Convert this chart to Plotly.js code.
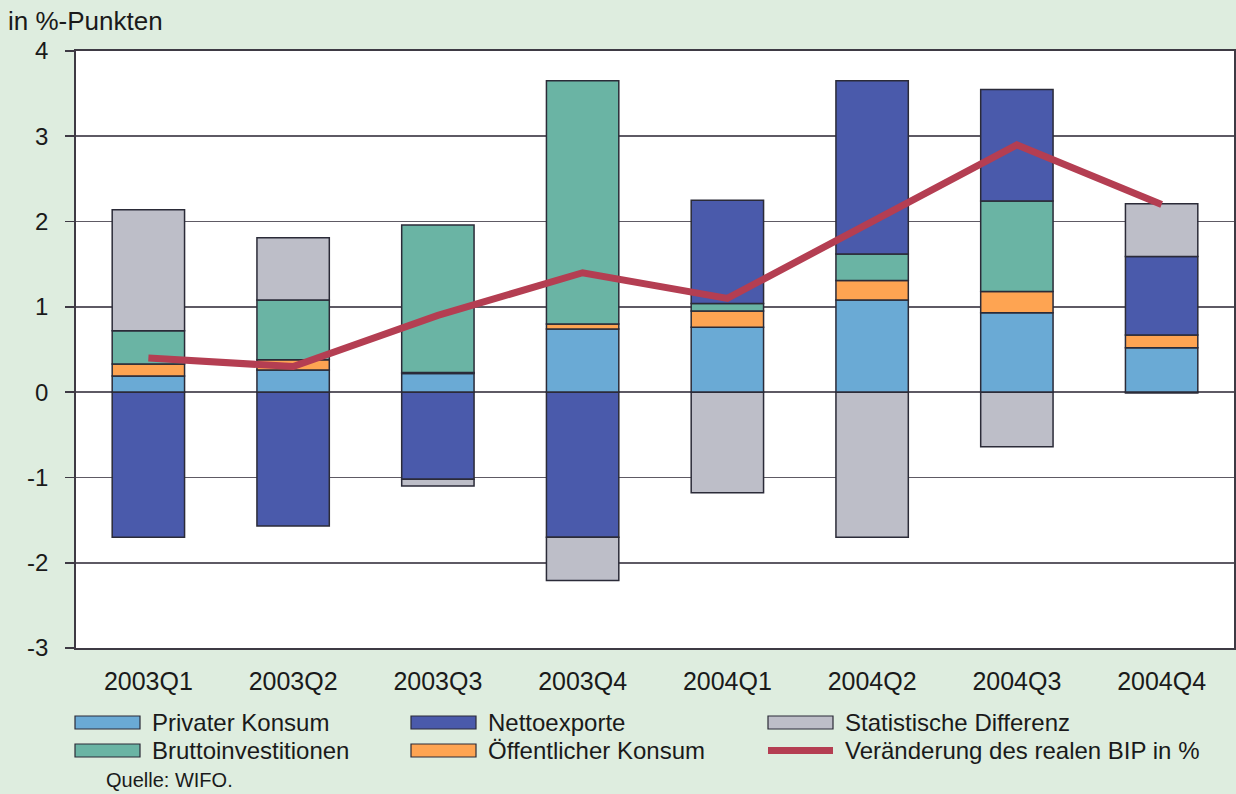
<!DOCTYPE html>
<html>
<head>
<meta charset="utf-8">
<script src="https://cdn.plot.ly/plotly-3.0.1.min.js"></script>
<style>
  html, body { margin: 0; padding: 0; background: #deeddf; }
  #chart { width: 1236px; height: 794px; }
</style>
</head>
<body>
<div id="chart"></div>
<script>
const quarters = ["2003Q1", "2003Q2", "2003Q3", "2003Q4", "2004Q1", "2004Q2", "2004Q3", "2004Q4"];
const privaterKonsum = [0.19, 0.26, 0.22, 0.74, 0.76, 1.08, 0.93, 0.52];
const oeffentlicherKonsum = [0.14, 0.12, 0.01, 0.06, 0.19, 0.23, 0.25, 0.15];
const bruttoinvestitionen = [0.39, 0.70, 1.73, 2.85, 0.09, 0.31, 1.06, -0.01];
const nettoexporte = [-1.70, -1.57, -1.02, -1.70, 1.21, 2.03, 1.31, 0.92];
const statDifferenz = [1.42, 0.73, -0.08, -0.51, -1.18, -1.70, -0.64, 0.62];
const bipVeraenderung = [0.4, 0.3, 0.9, 1.4, 1.1, 2.0, 2.9, 2.2];
const yTicks = [-3, -2, -1, 0, 1, 2, 3, 4];

const colors = {
  pk: "#6aaad5",
  nx: "#4a5aab",
  sd: "#bdbec8",
  bi: "#6ab4a4",
  ok: "#fea452",
  line: "#b43e52"
};

const FONT = "Liberation Sans, Arial, Helvetica, sans-serif";
const outline = { color: "#2b2b38", width: 1.5 };

function barTrace(name, values, color) {
  return {
    type: "bar", name: name, x: quarters, y: values,
    marker: { color: color, line: outline },
    width: 0.5, showlegend: false, hoverinfo: "name+y"
  };
}

const traces = [
  barTrace("Privater Konsum", privaterKonsum, colors.pk),
  barTrace("Öffentlicher Konsum", oeffentlicherKonsum, colors.ok),
  barTrace("Bruttoinvestitionen", bruttoinvestitionen, colors.bi),
  barTrace("Nettoexporte", nettoexporte, colors.nx),
  barTrace("Statistische Differenz", statDifferenz, colors.sd),
  {
    type: "scatter", mode: "lines", name: "Veränderung des realen BIP in %",
    x: quarters, y: bipVeraenderung,
    line: { color: colors.line, width: 7 }, showlegend: false
  }
];

// pixel -> paper helpers (plot area: x 76..1234, y 51..648)
const L = 76, R = 1234, T = 51, B = 648;
const px = p => (p - L) / (R - L);
const py = q => (B - q) / (B - T);

const legendItems = [
  { name: "Privater Konsum", color: colors.pk, col: 0, row: 0, kind: "box" },
  { name: "Nettoexporte", color: colors.nx, col: 1, row: 0, kind: "box" },
  { name: "Statistische Differenz", color: colors.sd, col: 2, row: 0, kind: "box" },
  { name: "Bruttoinvestitionen", color: colors.bi, col: 0, row: 1, kind: "box" },
  { name: "Öffentlicher Konsum", color: colors.ok, col: 1, row: 1, kind: "box" },
  { name: "Veränderung des realen BIP in %", color: colors.line, col: 2, row: 1, kind: "line" }
];
const colX = [75, 411, 768];
const rowY = [722.5, 750.5];
const swW = 65, swH = 13;

const shapes = [];
const annotations = [];
legendItems.forEach(it => {
  const x0 = colX[it.col], yc = rowY[it.row];
  if (it.kind === "box") {
    shapes.push({
      type: "rect", xref: "paper", yref: "paper",
      x0: px(x0), x1: px(x0 + swW), y0: py(yc + swH / 2), y1: py(yc - swH / 2),
      fillcolor: it.color, line: { color: "#2b2b38", width: 1.2 }
    });
  } else {
    shapes.push({
      type: "line", xref: "paper", yref: "paper",
      x0: px(x0), x1: px(x0 + swW), y0: py(yc), y1: py(yc),
      line: { color: it.color, width: 7 }
    });
  }
  annotations.push({
    xref: "paper", yref: "paper", x: px(x0 + swW + 10), y: py(yc),
    xanchor: "left", yanchor: "middle", showarrow: false,
    text: it.name, font: { family: FONT, size: 24, color: "#1a1a1a" }
  });
});
annotations.push({
  xref: "paper", yref: "paper", x: px(104), y: py(780),
  xanchor: "left", yanchor: "middle", showarrow: false,
  text: "Quelle: WIFO.", font: { family: FONT, size: 20, color: "#1a1a1a" }
});

const layout = {
  width: 1236, height: 794,
  margin: { l: L, r: 1236 - R, t: T, b: 794 - B, pad: 0 },
  paper_bgcolor: "#deeddf",
  plot_bgcolor: "#ffffff",
  barmode: "relative",
  title: {
    text: "in %-Punkten",
    xref: "container", yref: "container",
    x: 8 / 1236, xanchor: "left",
    y: 1 - 21 / 794, yanchor: "middle",
    font: { family: FONT, size: 26, color: "#1a1a1a" }
  },
  xaxis: {
    type: "category",
    range: [-0.5, 7.5],
    showgrid: false, zeroline: false,
    showline: true, linecolor: "#3e3a44", linewidth: 1.8, mirror: true,
    ticks: "", ticklabelstandoff: 10,
    tickfont: { family: FONT, size: 25, color: "#1a1a1a" },
    fixedrange: true
  },
  yaxis: {
    range: [-3, 4],
    tickvals: yTicks, ticktext: yTicks.map(String),
    showgrid: true, gridcolor: "#5e5a64", gridwidth: 1.8,
    zeroline: true, zerolinecolor: "#5e5a64", zerolinewidth: 1.8,
    showline: true, linecolor: "#3e3a44", linewidth: 1.8, mirror: true,
    ticks: "outside", ticklen: 9, tickcolor: "#3e3a44", tickwidth: 1.8,
    ticklabelstandoff: 12,
    tickfont: { family: FONT, size: 24, color: "#1a1a1a" },
    fixedrange: true
  },
  shapes: shapes,
  annotations: annotations,
  showlegend: false
};

Plotly.newPlot("chart", traces, layout, { displayModeBar: false, staticPlot: true });
</script>
</body>
</html>
